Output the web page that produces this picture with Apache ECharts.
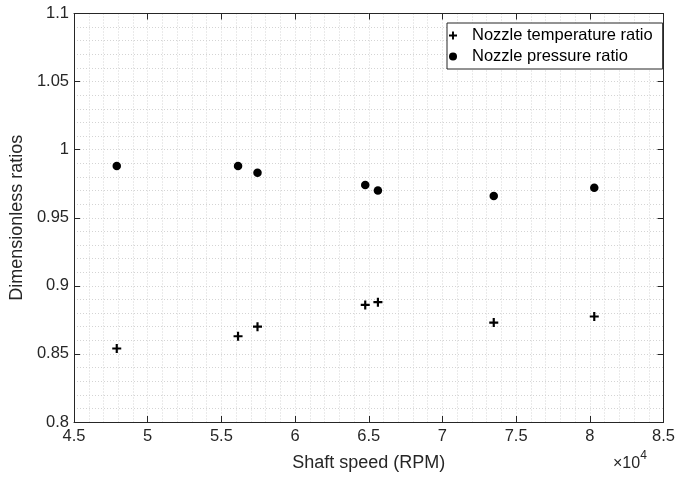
<!DOCTYPE html>
<html><head><meta charset="utf-8">
<script src="https://cdn.jsdelivr.net/npm/echarts@6/dist/echarts.min.js"></script>
<style>html,body{margin:0;padding:0;background:#fff}#c{width:678px;height:477px}</style>
</head><body><div id="c"></div>
<script>
const shaftSpeed = [47900, 56130, 57450, 64760, 65620, 73480, 80300];
const tempRatio = [0.854, 0.863, 0.870, 0.886, 0.888, 0.873, 0.8775];
const pressRatio = [0.988, 0.988, 0.983, 0.974, 0.970, 0.966, 0.972];
const seriesNames = ['Nozzle temperature ratio', 'Nozzle pressure ratio'];
const xTicks = ['4.5','5','5.5','6','6.5','7','7.5','8','8.5'];

const FONT = '"Liberation Sans", Arial, sans-serif';
const plusPath = 'path://M-1,-0.24 L1,-0.24 L1,0.24 L-1,0.24 Z M-0.24,-1 L0.24,-1 L0.24,1 L-0.24,1 Z';
const grid = {left:74, right:14, top:13.5, bottom:53.5};
const dotted = {show:true, lineStyle:{color:'#d4d4d4', type:[1,2], width:1}};
const axisCommon = {
  axisLine:{show:true, onZero:false, lineStyle:{color:'#262626', width:1}},
  axisTick:{show:true, inside:true, length:6, lineStyle:{color:'#262626'}},
  splitLine: dotted,
  minorTick:{show:false, splitNumber:5},
  minorSplitLine: dotted
};
const chart = echarts.init(document.getElementById('c'));
chart.setOption({
  animation:false,
  textStyle:{fontFamily:FONT},
  grid: grid,
  xAxis:[
    Object.assign({type:'value', min:45000, max:85000, interval:5000, position:'bottom',
      axisLabel:{color:'#262626', fontSize:16.5, fontFamily:FONT, margin:6,
        formatter:(v)=>xTicks[Math.round((v-45000)/5000)]},
      name:'Shaft speed (RPM)', nameLocation:'middle', nameGap:32,
      nameTextStyle:{color:'#262626', fontSize:18, fontFamily:FONT}}, axisCommon),
    Object.assign({type:'value', min:45000, max:85000, interval:5000, position:'top',
      axisLabel:{show:false}}, axisCommon, {splitLine:{show:false}, minorSplitLine:{show:false}})
  ],
  yAxis:[
    Object.assign({type:'value', min:0.8, max:1.1, interval:0.05, position:'left',
      axisLabel:{color:'#262626', fontSize:16.5, fontFamily:FONT, margin:5,
        formatter:(v)=>String(Math.round(v*100)/100)},
      name:'Dimensionless ratios', nameLocation:'middle', nameGap:45, nameRotate:90,
      nameTextStyle:{color:'#262626', fontSize:18, fontFamily:FONT}}, axisCommon),
    Object.assign({type:'value', min:0.8, max:1.1, interval:0.05, position:'right',
      axisLabel:{show:false}}, axisCommon, {splitLine:{show:false}, minorSplitLine:{show:false}})
  ],
  legend:{
    left:447, top:23, orient:'vertical', itemGap:4, itemWidth:28, itemHeight:8,
    padding:[4,10,4,2], borderColor:'#262626', borderWidth:1, backgroundColor:'#fff',
    textStyle:{color:'#000', fontSize:16.5, fontFamily:FONT},
    data:[{name:seriesNames[0], icon:plusPath}, {name:seriesNames[1], icon:'circle'}]
  },
  series:[
    {name:seriesNames[0], type:'scatter', symbol:plusPath, symbolSize:9,
      itemStyle:{color:'#000', opacity:1}, data:shaftSpeed.map((x,i)=>[x,tempRatio[i]])},
    {name:seriesNames[1], type:'scatter', symbol:'circle', symbolSize:8.5,
      itemStyle:{color:'#000', opacity:1}, data:shaftSpeed.map((x,i)=>[x,pressRatio[i]])}
  ],
  graphic:[{type:'text', left:613, top:450,
    style:{text:'{a|×10}{b|4}', rich:{
      a:{fontSize:16, fontFamily:FONT, fill:'#262626', verticalAlign:'bottom'},
      b:{fontSize:12, fontFamily:FONT, fill:'#262626', verticalAlign:'top', padding:[0,0,10,0]}}}}]
});
</script></body></html>
